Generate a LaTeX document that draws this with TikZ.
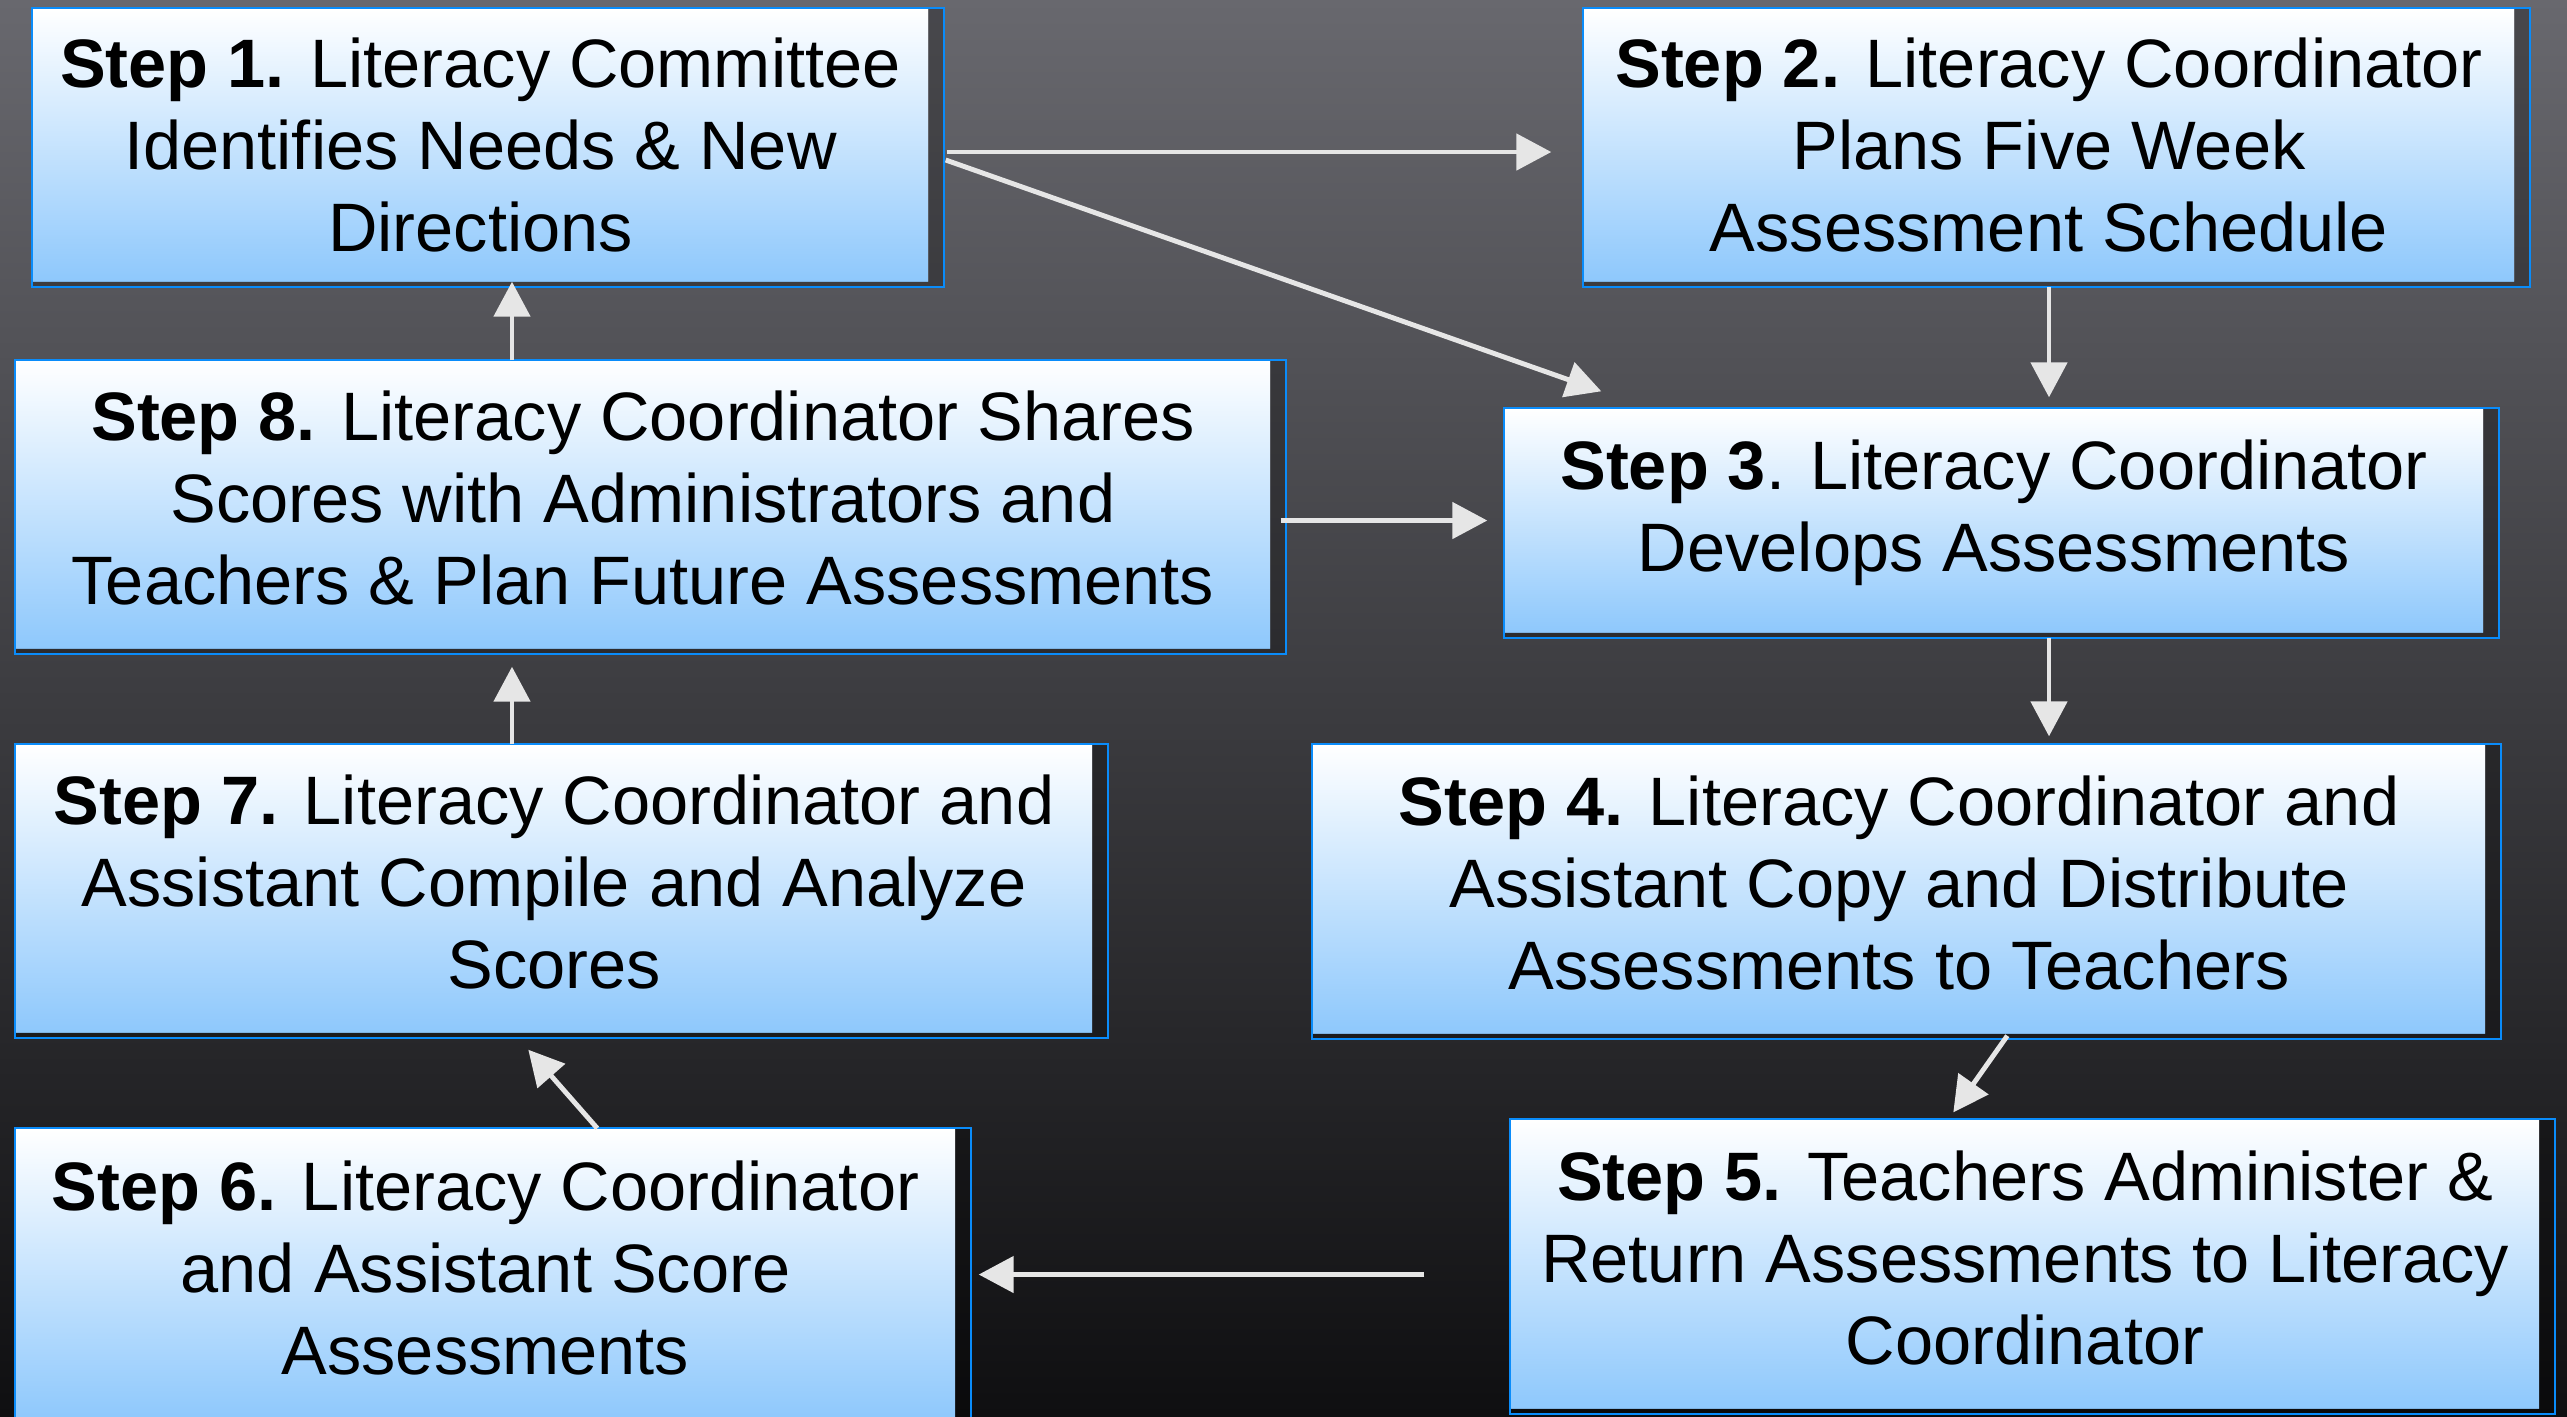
\documentclass[tikz,border=0pt]{standalone}
\usepackage{fontspec}
\setmainfont{Liberation Sans}
\usepackage{tikz}
\usetikzlibrary{calc,arrows.meta,positioning}
\definecolor{bgTop}{RGB}{104,104,110}
\definecolor{bgBottom}{RGB}{15,15,17}
\definecolor{boxBlue}{RGB}{142,200,252}
\definecolor{boxEdge}{RGB}{10,140,250}
\definecolor{arrowGrey}{RGB}{230,230,230}

\begin{document}
\begin{tikzpicture}

\tikzset{stepnode/.style={font=\fontsize{19.5}{23.3}\selectfont,align=center,inner sep=0pt,top color=white,bottom color=boxBlue,text depth=0.13cm},
flowarrow/.style={draw=arrowGrey,line width=1.4pt,-{Triangle[length=3.5mm,width=3.6mm]}}}

% Background
\useasboundingbox (0,0) rectangle (25.67,-14.16);
\clip (0,0) rectangle (25.67,-14.16);
\shade[top color=bgTop,bottom color=bgBottom] (0,0) rectangle (25.67,-14.16);

% step boxes
\node (step1) [stepnode,text depth=0pt,minimum width=8.95cm,minimum height=2.72cm] at (4.805,-1.45) {\textbf{Step 1.} Literacy Committee\\Identifies Needs \& New\\Directions};
\node (step2) [stepnode,text depth=0pt,minimum width=9.30cm,minimum height=2.72cm] at (20.49,-1.45) {\textbf{Step 2.} Literacy Coordinator\\Plans Five Week\\Assessment Schedule};
\node (step3) [stepnode,text depth=0.30cm,minimum width=9.78cm,minimum height=2.23cm] at (19.94,-5.205) {\textbf{Step 3}. Literacy Coordinator\\Develops Assessments};
\node (step4) [stepnode,minimum width=11.72cm,minimum height=2.88cm] at (18.99,-8.89) {\textbf{Step 4.} Literacy Coordinator and\\Assistant Copy and Distribute\\Assessments to Teachers};
\node (step5) [stepnode,minimum width=10.28cm,minimum height=2.88cm] at (20.25,-12.64) {\textbf{Step 5.} Teachers Administer \&\\Return Assessments to Literacy\\Coordinator};
\node (step6) [stepnode,minimum width=9.39cm,minimum height=2.91cm] at (4.855,-12.745) {\textbf{Step 6.} Literacy Coordinator\\and Assistant Score\\Assessments};
\node (step7) [stepnode,minimum width=10.76cm,minimum height=2.87cm] at (5.54,-8.885) {\textbf{Step 7.} Literacy Coordinator and\\Assistant Compile and Analyze\\Scores};
\node (step8) [stepnode,minimum width=12.54cm,minimum height=2.87cm] at (6.43,-5.045) {\textbf{Step 8.} Literacy Coordinator Shares\\Scores with Administrators and\\Teachers \& Plan Future Assessments};

% shadows and outlines
\foreach \n in {1,...,8} {
  \fill[black,opacity=0.3] (step\n.north east) rectangle ([shift={(1.5mm,-0.5mm)}]step\n.south east) (step\n.south west) rectangle ([shift={(1.5mm,-0.5mm)}]step\n.south east);
  \draw[boxEdge,line width=0.6pt] (step\n.north west) rectangle ([shift={(1.5mm,-0.5mm)}]step\n.south east);
}

% free ends
\coordinate (leftCol) at (5.12,0);
\coordinate (tip13) at ($(step3.north west)+(0.97,0.17)$);
\coordinate (start45) at ($(step4.south west)+(6.95,-0.02)$);
\coordinate (tip45) at ($(step5.north west)+(4.43,0.07)$);
\coordinate (start67) at ($(step6.north west)+(5.82,0)$);
\coordinate (tip67) at ($(step7.south west)+(5.13,-0.17)$);

% Edges
\draw[flowarrow,shorten <=1.8mm,shorten >=3.2mm] ([yshift=-0.7mm]step1.east) -- ([yshift=-0.7mm]step2.west);
\draw[flowarrow,shorten <=1.8mm] ([yshift=-0.9mm]step1.east) -- (tip13);
\draw[flowarrow,shorten <=0.5mm,shorten >=1.1mm] (step2.south) -- (step2.south |- step3.north);
\draw[flowarrow,shorten <=0.5mm,shorten >=0.8mm] (step3.south -| step2.south) -- (step4.north -| step2.south);
\draw[flowarrow] (start45) -- (tip45);
\draw[flowarrow,shorten <=8.6mm,shorten >=2.3mm] (step5.west |- step6.east) -- (step6.east);
\draw[flowarrow] (start67) -- (tip67);
\draw[flowarrow,shorten >=1.8mm] (step7.north -| leftCol) -- (step8.south -| leftCol);
\draw[flowarrow] (step8.north -| leftCol) -- (step1.south -| leftCol);
\draw[flowarrow,shorten <=1mm,shorten >=1.7mm] (step8.east |- step3.west) -- (step3.west);

\end{tikzpicture}
\end{document}
